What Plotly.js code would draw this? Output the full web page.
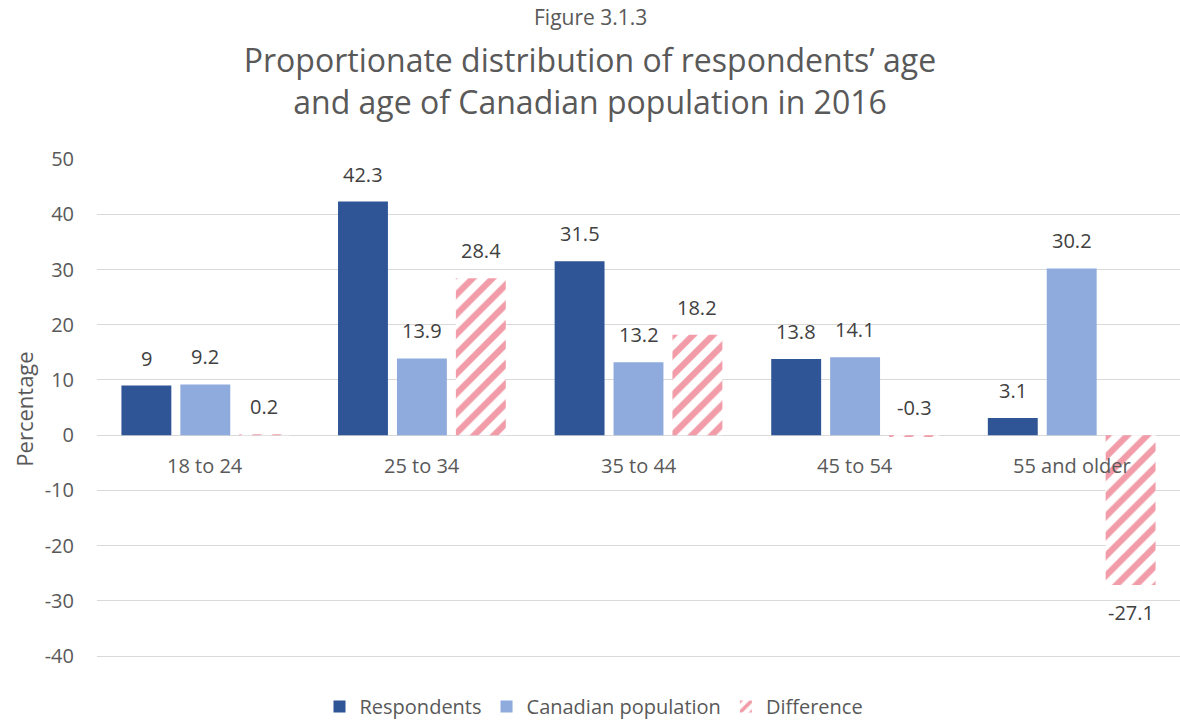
<!DOCTYPE html>
<html>
<head>
<meta charset="utf-8">
<script src="https://cdn.plot.ly/plotly-3.0.1.min.js"></script>
<style>html,body{margin:0;padding:0;background:#fff;}#chart{width:1180px;height:722px;}</style>
</head>
<body>
<div id="chart"></div>
<script>
const categories = ['18 to 24', '25 to 34', '35 to 44', '45 to 54', '55 and older'];
const respondents = [9, 42.3, 31.5, 13.8, 3.1];
const canadianPopulation = [9.2, 13.9, 13.2, 14.1, 30.2];
const difference = [0.2, 28.4, 18.2, -0.3, -27.1];
const seriesNames = ['Respondents', 'Canadian population', 'Difference'];
const yTicks = [-40, -30, -20, -10, 0, 10, 20, 30, 40, 50];

const FONT = 'Open Sans, Noto Sans, sans-serif';
const pink = '#F19CA8';

const traces = [
  {type: 'bar', name: seriesNames[0], x: categories, y: respondents,
   marker: {color: '#2F5597', line: {width: 0}}, hoverinfo: 'y'},
  {type: 'bar', name: seriesNames[1], x: categories, y: canadianPopulation,
   marker: {color: '#8FAADC', line: {width: 0}}, hoverinfo: 'y'},
  {type: 'bar', name: seriesNames[2], x: categories, y: difference,
   marker: {color: pink, line: {width: 0},
            pattern: {shape: '/', fgcolor: pink, bgcolor: '#ffffff', size: 14, solidity: 0.45, fillmode: 'replace'}},
   hoverinfo: 'y'}
];

const bargap = 0.184, bargroupgap = 0.153;
const slot = (1 - bargap) / 3;
const allSeries = [respondents, canadianPopulation, difference];
const annotations = [];
allSeries.forEach((vals, si) => {
  vals.forEach((v, ci) => {
    const xpos = ci + (si - 1) * slot;
    const below = v < -1;
    annotations.push({
      x: xpos, y: below ? v : Math.max(v, 0), xref: 'x', yref: 'y',
      text: String(v), showarrow: false,
      yanchor: below ? 'top' : 'bottom', yshift: below ? -12 : 12,
      font: {family: FONT, size: 20, color: '#404040'}
    });
  });
});
categories.forEach((c, ci) => {
  annotations.push({
    x: ci, y: 0, xref: 'x', yref: 'y', text: c, showarrow: false,
    yanchor: 'top', yshift: -15,
    font: {family: FONT, size: 20, color: '#595959'}
  });
});
annotations.push({
  x: (590 - 97) / 1083, y: 1, xref: 'paper', yref: 'paper', yanchor: 'middle', yshift: 142,
  text: 'Figure 3.1.3', showarrow: false,
  font: {family: FONT, size: 21, color: '#595959'}
});

const layout = {
  width: 1180, height: 722,
  margin: {l: 97, r: 0, t: 159, b: 63, autoexpand: false},
  paper_bgcolor: '#ffffff', plot_bgcolor: '#ffffff',
  font: {family: FONT, color: '#595959'},
  title: {
    text: 'Proportionate distribution of respondents’ age<br>and age of Canadian population in 2016',
    x: 0.5, xref: 'container', xanchor: 'center',
    y: 0.9, yref: 'container', yanchor: 'top',
    font: {family: FONT, size: 32, color: '#595959'}
  },
  barmode: 'group', bargap: bargap, bargroupgap: bargroupgap,
  xaxis: {
    type: 'category', showticklabels: false, showgrid: false, zeroline: false,
    showline: false, ticks: '', range: [-0.5, 4.5], fixedrange: true
  },
  yaxis: {
    range: [-40.5, 50], tickvals: yTicks, ticktext: yTicks.map(String),
    showgrid: true, gridcolor: '#D9D9D9', gridwidth: 1,
    zeroline: true, zerolinecolor: '#D9D9D9', zerolinewidth: 1,
    showline: false, ticks: '', ticklabelstandoff: 22,
    tickfont: {family: FONT, size: 20, color: '#595959'},
    title: {text: 'Percentage', standoff: 4, font: {family: FONT, size: 22, color: '#595959'}}
  },
  legend: {
    orientation: 'h', x: (594 - 97) / 1083, xanchor: 'center', y: -0.095, yanchor: 'middle',
    font: {family: FONT, size: 20, color: '#595959'}, itemwidth: 30, traceorder: 'normal'
  },
  annotations: annotations,
  showlegend: true
};

Plotly.newPlot('chart', traces, layout, {displayModeBar: false, staticPlot: true});
</script>
</body>
</html>
